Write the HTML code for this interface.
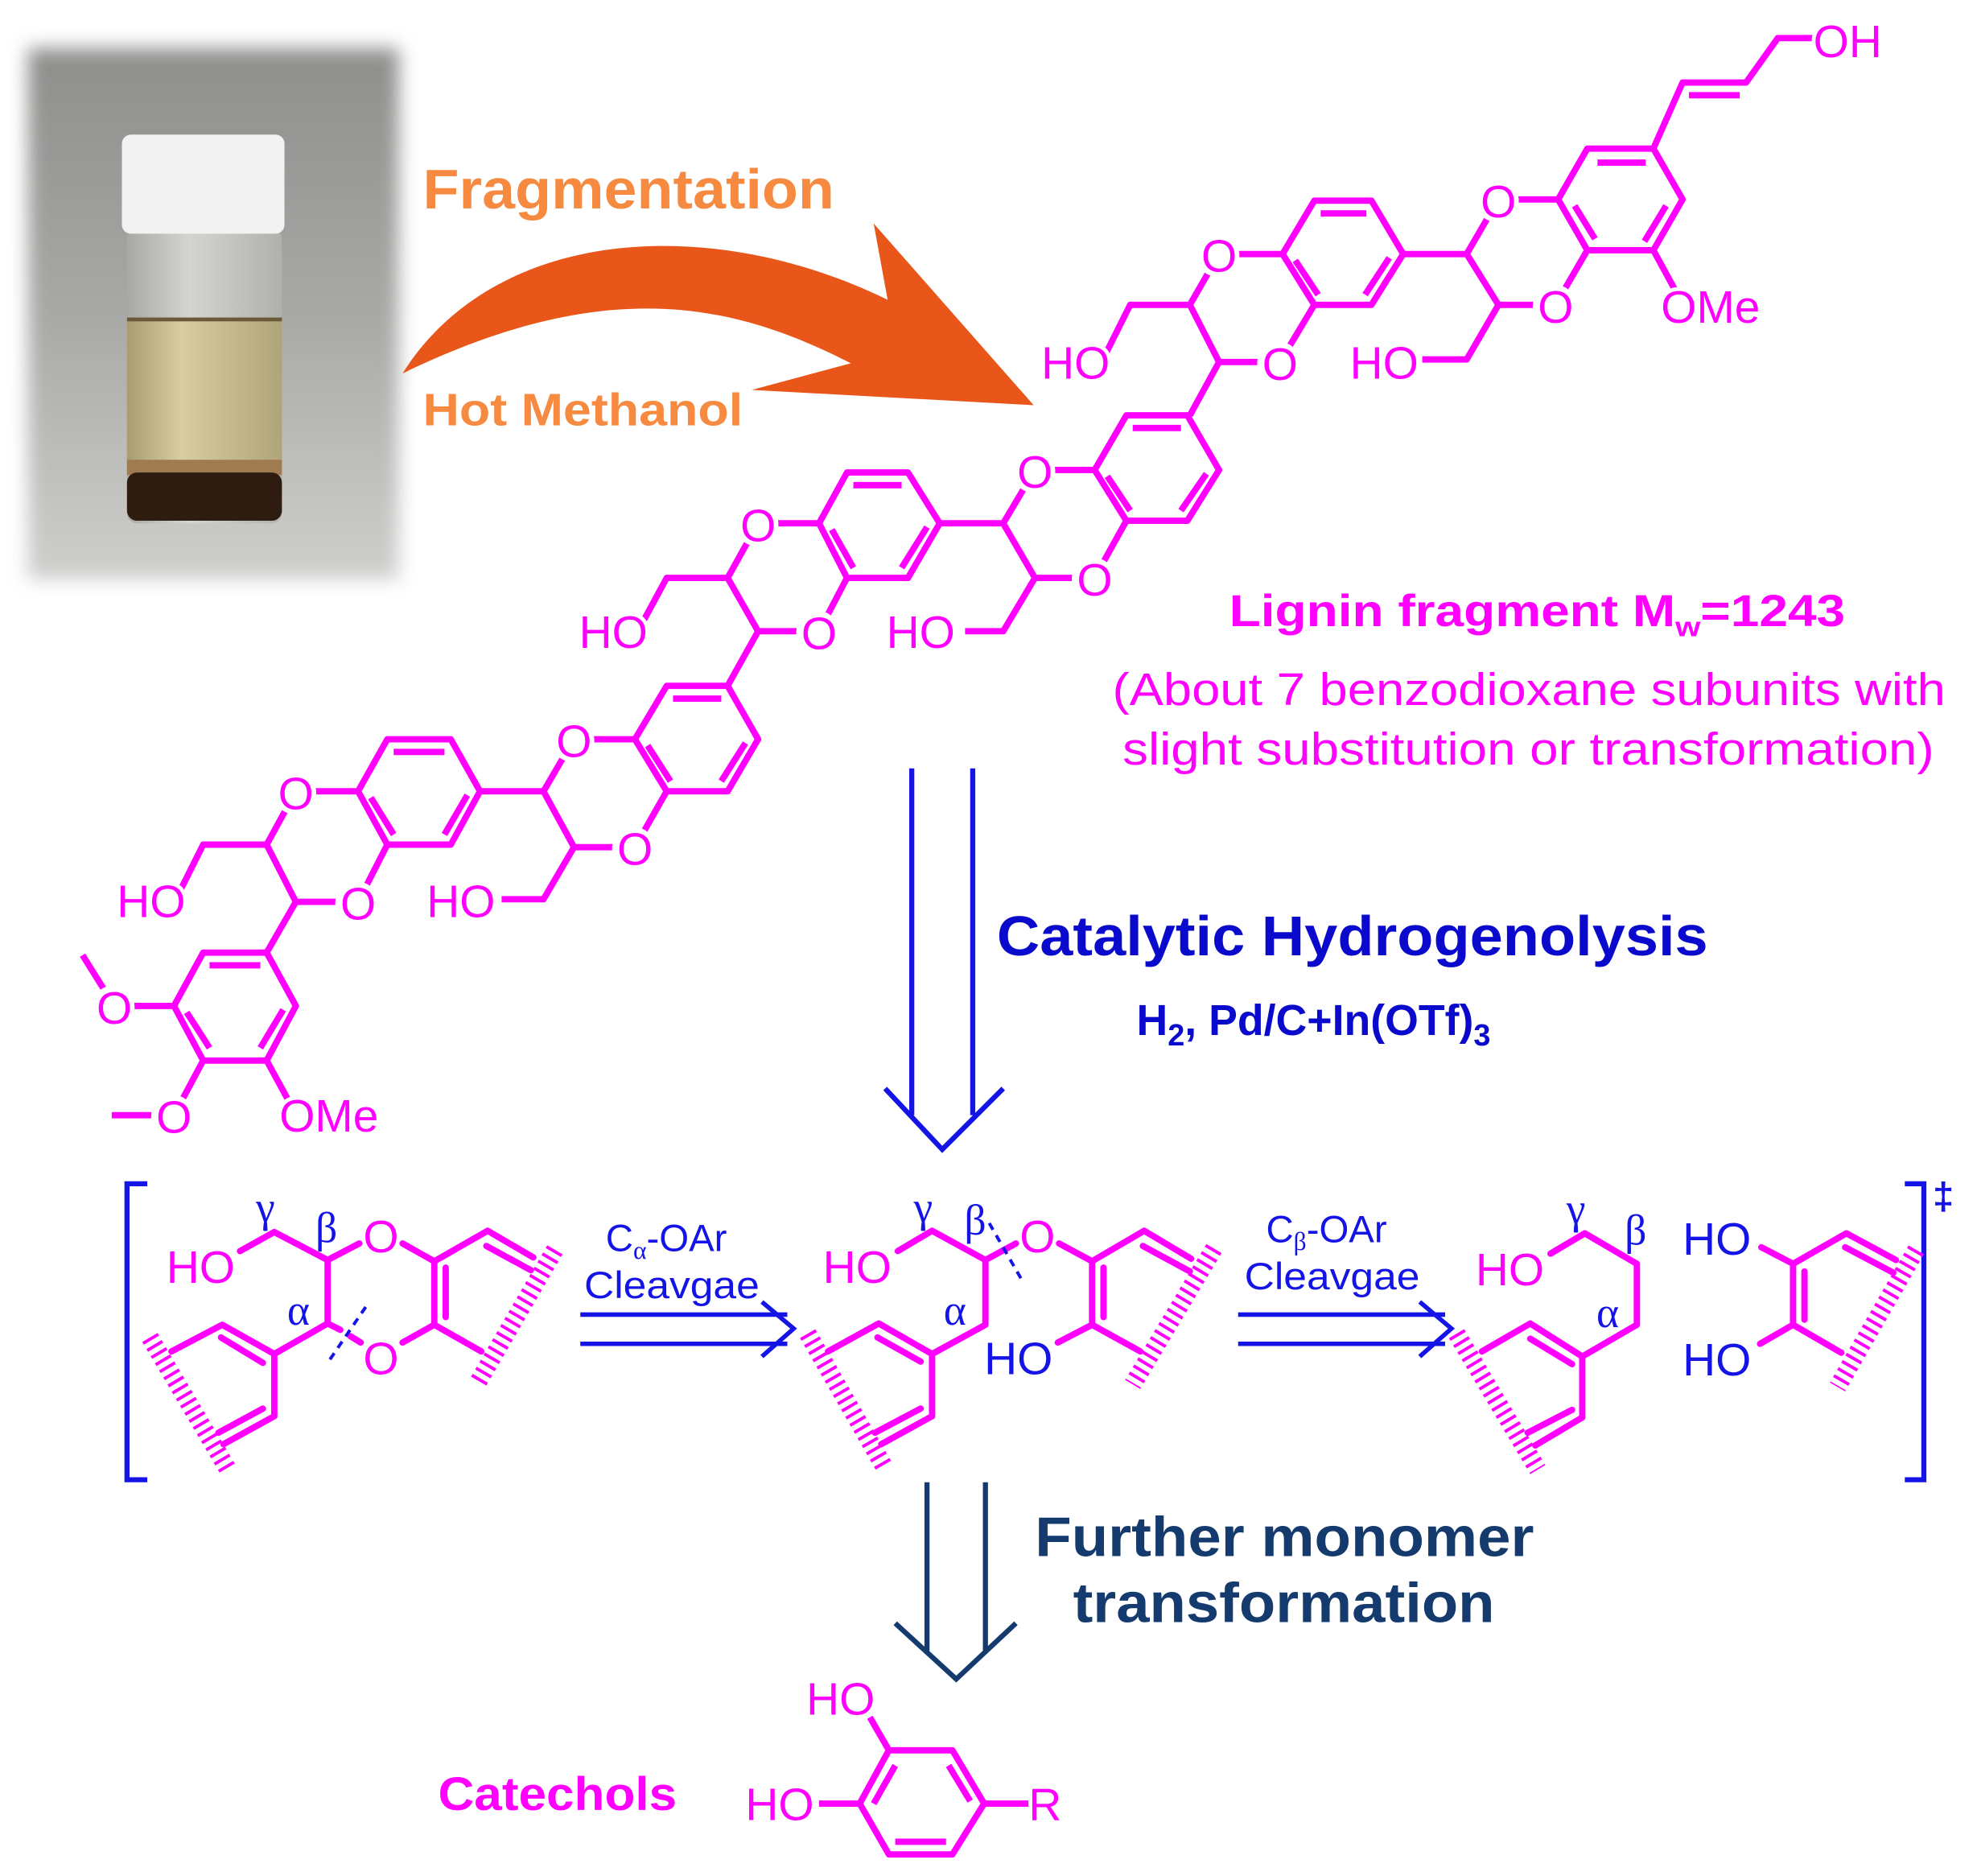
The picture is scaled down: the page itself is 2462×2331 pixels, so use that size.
<!DOCTYPE html>
<html><head><meta charset="utf-8"><style>html,body{margin:0;padding:0;background:#fff}svg{display:block}</style></head>
<body>
<svg width="2462" height="2331" viewBox="0 0 1560 1477" preserveAspectRatio="none" xmlns="http://www.w3.org/2000/svg" font-family="Liberation Sans, sans-serif">
<defs>
<linearGradient id="bg" x1="0" y1="0" x2="0" y2="1">
<stop offset="0" stop-color="#8e8e8c"/><stop offset="0.5" stop-color="#a8a8a6"/><stop offset="1" stop-color="#cfcfcd"/>
</linearGradient>
<linearGradient id="liq" x1="0" x2="1"><stop offset="0" stop-color="#a89c72"/><stop offset="0.35" stop-color="#d8cda2"/><stop offset="1" stop-color="#b0a47a"/></linearGradient>
<linearGradient id="glass" x1="0" x2="1"><stop offset="0" stop-color="#a8a8a4"/><stop offset="0.4" stop-color="#d4d4d0"/><stop offset="1" stop-color="#b0b0ac"/></linearGradient>
<filter id="blur" x="-10%" y="-10%" width="120%" height="120%"><feGaussianBlur stdDeviation="7"/></filter>
</defs>
<rect width="1560" height="1477" fill="#fff"/>
<!-- photo -->
<rect x="22" y="38" width="292" height="418" fill="url(#bg)" filter="url(#blur)"/>
<rect x="100" y="180" width="122" height="232" rx="8" fill="url(#glass)"/>
<rect x="100" y="250" width="122" height="120" fill="url(#liq)"/>
<rect x="100" y="250" width="122" height="3" fill="#6a5a3a"/>
<rect x="100" y="362" width="122" height="12" fill="#a07a50"/>
<rect x="100" y="372" width="122" height="38" rx="8" fill="#2e1c10"/>
<rect x="96" y="106" width="128" height="78" rx="7" fill="#f2f2f2"/>
<!-- orange arrow -->
<path d="M317,294 C390,178 560,168 699,236 L688,176 L814,319 L592,307 L670,286 C580,240 480,215 317,294 Z" fill="#e8561a"/>
<text x="333" y="164" font-size="44" font-weight="bold" fill="#f58a40" textLength="324" lengthAdjust="spacingAndGlyphs">Fragmentation</text>
<text x="333" y="335" font-size="36" font-weight="bold" fill="#f58a40" textLength="252" lengthAdjust="spacingAndGlyphs">Hot Methanol</text>
<!-- lignin structure -->
<g stroke="#f0f" stroke-width="5" fill="none" stroke-linejoin="round">
<polygon points="1250,117 1302,117 1325,157 1302,197 1250,197 1227,157"/>
<line x1="1258" y1="128" x2="1296" y2="128"/><line x1="1312" y1="162" x2="1295" y2="190"/><line x1="1240" y1="162" x2="1256" y2="188"/>
<polyline points="1302,117 1325,65 1375,65 1400,30 1430,30"/><line x1="1330" y1="75" x2="1370" y2="75"/>
<line x1="1302" y1="197" x2="1320" y2="230"/>
<polyline points="1227,157 1180,157 1155,200 1180,240 1225,240 1250,197"/>
<polyline points="1180,240 1155,283 1120,283"/>
<polygon points="1035,158 1080,158 1105,200 1080,240 1035,240 1010,200"/>
<line x1="1040" y1="168" x2="1076" y2="168"/><line x1="1094" y1="203" x2="1075" y2="232"/><line x1="1020" y1="205" x2="1038" y2="232"/>
<line x1="1105" y1="200" x2="1155" y2="200"/>
<polyline points="1010,200 960,200 937,240 960,285 1008,285 1035,240"/>
<polyline points="937,240 890,240 870,280"/><line x1="960" y1="285" x2="937" y2="327"/>
<polygon points="887,327 935,327 960,370 935,410 887,410 862,370"/>
<line x1="892" y1="337" x2="930" y2="337"/><line x1="950" y1="373" x2="930" y2="402"/><line x1="872" y1="375" x2="890" y2="402"/>
<polyline points="862,370 815,370 790,412 815,455 862,455 887,410"/>
<line x1="790" y1="412" x2="740" y2="412"/><polyline points="815,455 790,497 760,497"/>
<polygon points="667,372 715,372 740,412 715,455 667,455 645,412"/>
<line x1="672" y1="382" x2="710" y2="382"/><line x1="730" y1="415" x2="710" y2="447"/><line x1="655" y1="417" x2="672" y2="447"/>
<polyline points="645,412 597,412 573,455 597,497 645,497 667,455"/>
<polyline points="573,455 525,455 505,492"/><line x1="597" y1="497" x2="573" y2="540"/>
<polygon points="525,540 573,540 597,582 573,623 525,623 500,582"/>
<line x1="530" y1="550" x2="568" y2="550"/><line x1="587" y1="585" x2="568" y2="615"/><line x1="510" y1="587" x2="528" y2="615"/>
<polyline points="500,582 452,582 428,623 452,667 500,667 525,623"/>
<line x1="428" y1="623" x2="378" y2="623"/><polyline points="452,667 428,708 395,708"/>
<polygon points="305,582 355,582 378,623 355,665 305,665 282,623"/>
<line x1="310" y1="592" x2="350" y2="592"/><line x1="368" y1="626" x2="350" y2="657"/><line x1="292" y1="628" x2="310" y2="657"/>
<polyline points="282,623 233,623 210,665 233,710 282,710 305,665"/>
<polyline points="210,665 160,665 140,705"/><line x1="233" y1="710" x2="210" y2="750"/>
<polygon points="210,750 233,792 210,835 160,835 137,792 160,750"/>
<line x1="165" y1="760" x2="205" y2="760"/><line x1="223" y1="795" x2="205" y2="825"/><line x1="147" y1="797" x2="165" y2="825"/>
<line x1="210" y1="835" x2="228" y2="868"/>
<polyline points="137,792 90,792 65,752"/>
<polyline points="160,835 137,878 88,878"/>
</g>
<g fill="#fff">
<circle cx="1179" cy="158" r="17"/><circle cx="1224" cy="241" r="17"/><circle cx="959" cy="201" r="17"/><circle cx="1007" cy="286" r="17"/>
<circle cx="814" cy="371" r="17"/><circle cx="861" cy="456" r="17"/><circle cx="596" cy="413" r="17"/><circle cx="644" cy="498" r="17"/>
<circle cx="451" cy="583" r="17"/><circle cx="499" cy="668" r="17"/><circle cx="232" cy="624" r="17"/><circle cx="281" cy="711" r="17"/>
<circle cx="89" cy="793" r="17"/><circle cx="136" cy="879" r="17"/>
</g>
<g fill="#f0f" font-size="36" stroke="#fff" stroke-width="6" paint-order="stroke">
<text x="1428" y="45">OH</text><text x="1308" y="254">OMe</text>
<text x="1166" y="171">O</text><text x="1211" y="254">O</text><text x="1063" y="298">HO</text>
<text x="946" y="214">O</text><text x="994" y="299">O</text><text x="820" y="298">HO</text>
<text x="801" y="384">O</text><text x="848" y="469">O</text><text x="698" y="510">HO</text>
<text x="583" y="426">O</text><text x="631" y="511">O</text><text x="456" y="510">HO</text>
<text x="438" y="596">O</text><text x="486" y="681">O</text><text x="336" y="722">HO</text>
<text x="219" y="637">O</text><text x="268" y="724">O</text><text x="92" y="722">HO</text>
<text x="76" y="806">O</text><text x="123" y="892">O</text><text x="220" y="891">OMe</text>
</g>
<text x="968" y="493" font-size="35" font-weight="bold" fill="#f0f" textLength="485" lengthAdjust="spacingAndGlyphs">Lignin fragment M<tspan font-size="22" dy="8">w</tspan><tspan dy="-8">=1243</tspan></text>
<text x="876" y="555" font-size="36" fill="#f0f" textLength="656" lengthAdjust="spacingAndGlyphs">(About 7 benzodioxane subunits with</text>
<text x="884" y="602" font-size="36" fill="#f0f" textLength="639" lengthAdjust="spacingAndGlyphs">slight substitution or transformation)</text>
<!-- blue arrow -->
<g stroke="#1414e6" stroke-width="4" fill="none">
<line x1="718" y1="605" x2="718" y2="878"/><line x1="766" y1="605" x2="766" y2="878"/>
<polyline points="697,857 742,905 790,857"/>
</g>
<text x="785" y="752" font-size="44" font-weight="bold" fill="#0a0acc" textLength="560" lengthAdjust="spacingAndGlyphs">Catalytic Hydrogenolysis</text>
<text x="895" y="815" font-size="34" font-weight="bold" fill="#0a0acc">H<tspan font-size="24" dy="8">2</tspan><tspan dy="-8">, Pd/C+In(OTf)</tspan><tspan font-size="24" dy="8">3</tspan></text>
<!-- brackets -->
<g stroke="#1414e6" stroke-width="4" fill="none">
<polyline points="116,932 100,932 100,1165 116,1165"/>
<polyline points="1500,932 1515,932 1515,1165 1500,1165"/>
</g>
<text x="1522" y="952" font-size="30" font-weight="bold" fill="#1414e6">‡</text>
<!-- bottom intermediates -->
<g stroke="#f0f" stroke-width="5" fill="none" stroke-linejoin="round" stroke-linecap="round">
<!-- left block -->
<polyline points="189,985 216,970 258,992 283,979"/>
<line x1="258" y1="992" x2="258" y2="1042"/>
<line x1="258" y1="1042" x2="268" y2="1047"/><line x1="276" y1="1052" x2="284" y2="1057"/>
<polyline points="258,1042 216,1066 175,1043 135,1064"/>
<line x1="174" y1="1053" x2="207" y2="1073"/>
<polyline points="216,1066 216,1115 176,1137"/>
<line x1="172" y1="1128" x2="207" y2="1109"/>
<polyline points="317,979 342,993 384,969 420,990"/>
<line x1="383" y1="981" x2="418" y2="1000"/>
<line x1="342" y1="993" x2="342" y2="1043"/><line x1="351" y1="998" x2="351" y2="1037"/>
<line x1="342" y1="1043" x2="317" y2="1057"/><line x1="342" y1="1043" x2="379" y2="1064"/>
<!-- middle block -->
<polyline points="707,985 734,969 776,992 800,979"/>
<polyline points="776,992 776,1043 734,1066 692,1042 652,1064"/>
<line x1="691" y1="1053" x2="725" y2="1072"/>
<polyline points="734,1066 734,1115 694,1137"/>
<line x1="689" y1="1128" x2="725" y2="1109"/>
<polyline points="834,979 860,993 901,969 938,991"/>
<line x1="900" y1="981" x2="937" y2="1001"/>
<line x1="860" y1="993" x2="860" y2="1043"/><line x1="869" y1="998" x2="869" y2="1037"/>
<line x1="860" y1="1043" x2="833" y2="1057"/><line x1="860" y1="1043" x2="898" y2="1064"/>
<!-- right block -->
<polyline points="1221,987 1248,971 1289,995 1289,1043 1246,1068 1205,1042 1167,1064"/>
<line x1="1205" y1="1054" x2="1238" y2="1074"/>
<polyline points="1246,1068 1246,1116 1209,1138"/>
<line x1="1203" y1="1128" x2="1238" y2="1110"/>
<polyline points="1387,982 1412,995 1454,971 1493,992"/>
<line x1="1453" y1="982" x2="1491" y2="1002"/>
<line x1="1412" y1="995" x2="1412" y2="1043"/><line x1="1421" y1="1001" x2="1421" y2="1039"/>
<line x1="1412" y1="1043" x2="1386" y2="1058"/><line x1="1412" y1="1043" x2="1450" y2="1065"/>
</g>
<g stroke="#f0f" stroke-width="14" stroke-dasharray="2.5 4" fill="none">
<line x1="118" y1="1053" x2="179" y2="1156"/><line x1="437" y1="984" x2="376" y2="1089"/>
<line x1="636" y1="1050" x2="697" y2="1156"/><line x1="956" y1="983" x2="892" y2="1090"/>
<line x1="1147" y1="1050" x2="1211" y2="1157"/><line x1="1509" y1="984" x2="1447" y2="1092"/>
</g>
<g stroke="#1414e6" stroke-width="2.5" stroke-dasharray="6 5"><line x1="288" y1="1029" x2="258" y2="1073"/><line x1="779" y1="963" x2="806" y2="1010"/></g>
<g fill="#f0f" font-size="36">
<text x="131" y="1010">HO</text><text x="286" y="986">O</text><text x="286" y="1082">O</text>
<text x="648" y="1010">HO</text><text x="803" y="986">O</text>
<text x="1162" y="1012">HO</text>
</g>
<g fill="#1414e6" font-size="36">
<text x="775" y="1082">HO</text><text x="1325" y="988">HO</text><text x="1325" y="1083">HO</text>
</g>
<g fill="#1414e6" font-size="34" font-family="Liberation Serif, serif" text-anchor="middle">
<text x="209" y="962">γ</text><text x="257" y="978">β</text><text x="235" y="1043">α</text>
<text x="727" y="962">γ</text><text x="768" y="972">β</text><text x="752" y="1043">α</text>
<text x="1241" y="963">γ</text><text x="1288" y="980">β</text><text x="1266" y="1045">α</text>
</g>
<!-- horizontal arrows -->
<g stroke="#1414e6" stroke-width="3.5" fill="none">
<line x1="457" y1="1035" x2="620" y2="1035"/><line x1="457" y1="1058" x2="620" y2="1058"/><polyline points="600,1025 625,1046 600,1068"/>
<line x1="975" y1="1035" x2="1138" y2="1035"/><line x1="975" y1="1058" x2="1138" y2="1058"/><polyline points="1118,1025 1143,1046 1118,1068"/>
</g>
<g fill="#1414e6" font-size="30">
<text x="477" y="985">C<tspan font-size="20" font-family="Liberation Serif, serif" dy="6">α</tspan><tspan dy="-6">-OAr</tspan></text>
<text x="460" y="1022" textLength="138" lengthAdjust="spacingAndGlyphs">Cleavgae</text>
<text x="997" y="978">C<tspan font-size="20" font-family="Liberation Serif, serif" dy="6">β</tspan><tspan dy="-6">-OAr</tspan></text>
<text x="980" y="1015" textLength="138" lengthAdjust="spacingAndGlyphs">Cleavgae</text>
</g>
<!-- lower arrow -->
<g stroke="#153a6e" stroke-width="4" fill="none">
<line x1="730" y1="1167" x2="730" y2="1300"/><line x1="776" y1="1167" x2="776" y2="1300"/>
<polyline points="705,1278 753,1322 800,1278"/>
</g>
<text x="815" y="1225" font-size="44" font-weight="bold" fill="#153a6e" textLength="393" lengthAdjust="spacingAndGlyphs">Further monomer</text>
<text x="845" y="1277" font-size="44" font-weight="bold" fill="#153a6e" textLength="332" lengthAdjust="spacingAndGlyphs">transformation</text>
<text x="345" y="1425" font-size="37" font-weight="bold" fill="#f0f" textLength="188" lengthAdjust="spacingAndGlyphs">Catechols</text>
<g stroke="#f0f" stroke-width="5" fill="none" stroke-linejoin="round">
<polygon points="700,1378 750,1378 775,1420 750,1460 700,1460 677,1420"/>
<line x1="705" y1="1450" x2="745" y2="1450"/><line x1="747" y1="1390" x2="764" y2="1418"/><line x1="688" y1="1420" x2="705" y2="1390"/>
<line x1="700" y1="1378" x2="685" y2="1352"/><line x1="677" y1="1420" x2="645" y2="1420"/><line x1="775" y1="1420" x2="810" y2="1420"/>
</g>
<g fill="#f0f" font-size="36" stroke="#fff" stroke-width="6" paint-order="stroke">
<text x="635" y="1350">HO</text><text x="587" y="1433">HO</text><text x="810" y="1433">R</text>
</g>
</svg>
</body></html>
